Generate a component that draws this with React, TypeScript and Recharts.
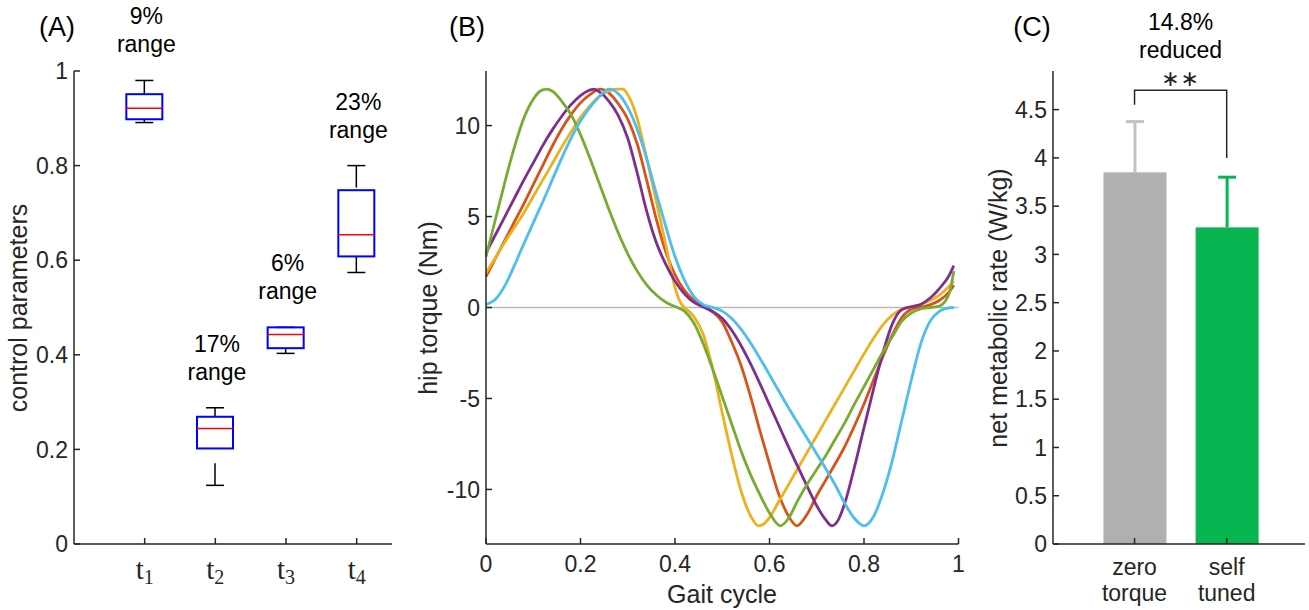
import React from 'react';
import { ComposedChart, LineChart, Line, Bar, XAxis, YAxis, ReferenceLine, ReferenceDot } from 'recharts';

// ─── shared look ──────────────────────────────────────────────────────────────

const W = 1309;
const H = 610;
const SANS = '"Liberation Sans", Arial, sans-serif';
const SERIF = '"Liberation Serif", "Times New Roman", serif';
const AXIS = '#262626';
const TICK_FONT = 23;
const TITLE_FONT = 25;
const NOTE_FONT = 23;

// ─── (A) control parameters box plot ─────────────────────────────────────────

const paramPos = [1, 2, 3, 4];
const paramSub = ['1', '2', '3', '4'];
const whiskerHi = [0.98, 0.288, 0.458, 0.8];
const upperQ = [0.951, 0.269, 0.458, 0.748];
const medians = [0.921, 0.244, 0.443, 0.654];
const lowerQ = [0.898, 0.202, 0.414, 0.608];
const whiskerLo = [0.891, 0.124, 0.403, 0.574];
const rangePct = ['9%', '17%', '6%', '23%'];
const paramTicksY = [0, 0.2, 0.4, 0.6, 0.8, 1];

// ─── (B) hip torque profiles, [gait cycle, Nm] ───────────────────────────────

const gaitRed: [number, number][] = [
  [0, 1.7], [0.02, 2.7], [0.04, 3.7], [0.06, 4.7], [0.08, 5.7], [0.1, 6.75], [0.12, 7.8],
  [0.14, 8.85], [0.16, 9.8], [0.18, 10.6], [0.2, 11.25], [0.22, 11.7], [0.242, 12], [0.26, 11.8],
  [0.28, 11.2], [0.3, 10.35], [0.32, 9.0], [0.34, 7.0], [0.36, 4.9], [0.38, 3.1], [0.4, 1.8],
  [0.42, 0.95], [0.44, 0.4], [0.46, 0.05], [0.48, -0.25], [0.5, -0.8], [0.52, -1.9], [0.54, -3.2],
  [0.56, -4.9], [0.58, -6.8], [0.6, -8.6], [0.62, -10.3], [0.64, -11.45], [0.658, -12],
  [0.68, -11.35], [0.7, -10.35], [0.72, -9.45], [0.74, -8.55], [0.76, -7.6], [0.78, -6.5],
  [0.8, -5.3], [0.82, -4.0], [0.84, -2.7], [0.86, -1.5], [0.88, -0.55], [0.9, -0.1], [0.92, 0.02],
  [0.94, 0.15], [0.96, 0.4], [0.98, 0.85], [0.99, 1.23],
];
const gaitYellow: [number, number][] = [
  [0, 1.9], [0.02, 2.75], [0.04, 3.6], [0.06, 4.4], [0.08, 5.2], [0.1, 6.1], [0.12, 7.0],
  [0.14, 7.9], [0.16, 8.8], [0.18, 9.65], [0.2, 10.45], [0.22, 11.1], [0.24, 11.6], [0.26, 11.9],
  [0.275, 12], [0.29, 12], [0.3, 11.7], [0.32, 10.4], [0.34, 8.2], [0.36, 5.9], [0.38, 3.5],
  [0.4, 1.1], [0.41, 0.35], [0.42, 0.0], [0.43, -0.22], [0.44, -0.5], [0.46, -1.5], [0.48, -3.4],
  [0.5, -5.8], [0.52, -8.1], [0.54, -10.1], [0.56, -11.45], [0.577, -12], [0.59, -11.85],
  [0.6, -11.55], [0.62, -10.65], [0.64, -9.75], [0.66, -8.85], [0.68, -7.95], [0.7, -7.05],
  [0.72, -6.15], [0.74, -5.25], [0.76, -4.35], [0.78, -3.45], [0.8, -2.55], [0.82, -1.7],
  [0.84, -0.95], [0.86, -0.42], [0.88, -0.1], [0.9, 0.05], [0.92, 0.18], [0.94, 0.38],
  [0.96, 0.7], [0.98, 1.15], [0.99, 1.45],
];
const gaitPurple: [number, number][] = [
  [0, 3.0], [0.02, 4.0], [0.04, 5.0], [0.06, 6.0], [0.08, 7.0], [0.1, 7.95], [0.12, 8.9],
  [0.14, 9.75], [0.16, 10.5], [0.18, 11.15], [0.2, 11.65], [0.215, 11.9], [0.228, 12],
  [0.24, 11.85], [0.26, 11.35], [0.28, 10.55], [0.3, 9.3], [0.32, 7.4], [0.34, 5.3], [0.36, 3.6],
  [0.38, 2.4], [0.4, 1.45], [0.42, 0.75], [0.44, 0.28], [0.46, 0.03], [0.48, -0.22], [0.5, -0.6],
  [0.52, -1.25], [0.54, -2.1], [0.56, -3.1], [0.58, -4.2], [0.6, -5.35], [0.62, -6.5],
  [0.64, -7.65], [0.66, -8.75], [0.68, -9.85], [0.7, -10.9], [0.72, -11.7], [0.732, -12],
  [0.745, -11.7], [0.76, -10.7], [0.78, -8.75], [0.8, -6.6], [0.82, -4.5], [0.84, -2.5],
  [0.86, -0.9], [0.88, -0.12], [0.9, 0.04], [0.92, 0.17], [0.94, 0.52], [0.96, 1.05],
  [0.98, 1.75], [0.99, 2.3],
];
const gaitGreen: [number, number][] = [
  [0, 2.8], [0.02, 4.85], [0.04, 6.9], [0.06, 8.8], [0.08, 10.4], [0.1, 11.45], [0.115, 11.9],
  [0.128, 12], [0.14, 11.9], [0.16, 11.35], [0.18, 10.6], [0.2, 9.5], [0.22, 8.2], [0.24, 6.8],
  [0.26, 5.4], [0.28, 4.1], [0.3, 2.95], [0.32, 2.0], [0.34, 1.25], [0.36, 0.7], [0.38, 0.3],
  [0.4, 0.05], [0.42, -0.2], [0.44, -0.85], [0.46, -2.0], [0.48, -3.4], [0.5, -4.9], [0.52, -6.4],
  [0.54, -7.9], [0.56, -9.2], [0.58, -10.3], [0.6, -11.3], [0.623, -12], [0.64, -11.6],
  [0.66, -10.6], [0.68, -9.7], [0.7, -8.9], [0.72, -8.1], [0.74, -7.2], [0.76, -6.3], [0.78, -5.3],
  [0.8, -4.35], [0.82, -3.4], [0.84, -2.45], [0.86, -1.6], [0.88, -0.75], [0.9, -0.3],
  [0.92, -0.08], [0.94, 0], [0.96, 0.08], [0.98, 0.75], [0.99, 2.0],
];
const gaitCyan: [number, number][] = [
  [0, 0.15], [0.02, 0.45], [0.04, 1.2], [0.06, 2.3], [0.08, 3.5], [0.1, 4.65], [0.12, 5.8],
  [0.14, 7.0], [0.16, 8.2], [0.18, 9.3], [0.2, 10.25], [0.22, 11.0], [0.24, 11.6], [0.26, 12.0],
  [0.28, 11.75], [0.3, 11.0], [0.32, 9.8], [0.34, 8.2], [0.36, 6.3], [0.38, 4.5], [0.4, 2.8],
  [0.42, 1.5], [0.44, 0.6], [0.46, 0.15], [0.48, 0.0], [0.5, -0.2], [0.52, -0.6], [0.54, -1.2],
  [0.56, -1.95], [0.58, -2.8], [0.6, -3.7], [0.62, -4.6], [0.64, -5.5], [0.66, -6.35],
  [0.68, -7.2], [0.7, -8.05], [0.72, -8.9], [0.74, -9.8], [0.76, -10.8], [0.78, -11.6],
  [0.8, -12.0], [0.82, -11.5], [0.84, -10.2], [0.86, -8.4], [0.88, -6.2], [0.9, -4.0],
  [0.92, -2.0], [0.94, -0.75], [0.96, -0.2], [0.98, -0.02], [0.99, 0],
];
const gaitTicksX = [0, 0.2, 0.4, 0.6, 0.8, 1];
const torqueTicks = [-10, -5, 0, 5, 10];

// ─── (C) metabolic rate ──────────────────────────────────────────────────────

const condPos = [1, 2];
const condLabels = [['zero', 'torque'], ['self', 'tuned']];
const metMean = [3.85, 3.28];
const metErr = [0.526, 0.52];
const metTicks = [0, 0.5, 1, 1.5, 2, 2.5, 3, 3.5, 4, 4.5];
const bracket = [
  { pos: 1, v: 4.55 },
  { pos: 1, v: 4.7 },
  { pos: 2, v: 4.7 },
  { pos: 2, v: 4.0 },
];

const barFill = ['#b0b0b0', '#08b550'];
const errColor = ['#c2c2c2', '#08b550'];

// ─── helpers ──────────────────────────────────────────────────────────────────

const fmt = (v: number) => String(v);
const toPts = (arr: [number, number][]) => arr.map(([x, y]) => ({ x, y }));

function LeftTick({ x, y, payload }: any) {
  return (
    <g>
      <line x1={x} x2={x + 6} y1={y} y2={y} stroke={AXIS} strokeWidth={1.5} />
      <text x={x - 6} y={y} dy="0.36em" textAnchor="end" fontFamily={SANS} fontSize={TICK_FONT} fill={AXIS}>
        {fmt(payload.value)}
      </text>
    </g>
  );
}

function BottomTick({ x, y, payload }: any) {
  return (
    <g>
      <line x1={x} x2={x} y1={y} y2={y - 6} stroke={AXIS} strokeWidth={1.5} />
      <text x={x} y={y + 28} textAnchor="middle" fontFamily={SANS} fontSize={TICK_FONT} fill={AXIS}>
        {fmt(payload.value)}
      </text>
    </g>
  );
}

function ParamTick({ x, y, payload }: any) {
  const i = paramPos.indexOf(payload.value);
  return (
    <g>
      <line x1={x} x2={x} y1={y} y2={y - 6} stroke={AXIS} strokeWidth={1.5} />
      <text x={x} y={y + 35} textAnchor="middle" fontFamily={SERIF} fontSize={29} fill={AXIS}>
        t<tspan fontSize={20} dy={5}>{paramSub[i]}</tspan>
      </text>
    </g>
  );
}

function CondTick({ x, y, payload }: any) {
  const i = condPos.indexOf(payload.value);
  const lines = condLabels[i] || [];
  return (
    <g>
      <line x1={x} x2={x} y1={y} y2={y - 6} stroke={AXIS} strokeWidth={1.5} />
      <text x={x} y={y + 31} textAnchor="middle" fontFamily={SANS} fontSize={TICK_FONT} fill={AXIS}>
        {lines[0]}
      </text>
      <text x={x} y={y + 57} textAnchor="middle" fontFamily={SANS} fontSize={TICK_FONT} fill={AXIS}>
        {lines[1]}
      </text>
    </g>
  );
}

// box + whiskers + median, scale taken from the bar Recharts hands us
function BoxShape(props: any) {
  const { x, y, width, height, payload } = props;
  const k = height / (payload.q3 - payload.q1);
  const cx = x + width / 2;
  const yHi = y - (payload.hi - payload.q3) * k;
  const yLo = y + height + (payload.q1 - payload.lo) * k;
  const yMed = y + (payload.q3 - payload.med) * k;
  const cap = width / 4;
  return (
    <g>
      {yHi < y - 0.5 && (
        <line x1={cx} x2={cx} y1={yHi} y2={y} stroke="#000" strokeWidth={1.5} strokeDasharray="22 16" />
      )}
      <line x1={cx - cap} x2={cx + cap} y1={yHi} y2={yHi} stroke="#000" strokeWidth={1.5} />
      <line x1={cx} x2={cx} y1={yLo} y2={y + height} stroke="#000" strokeWidth={1.5} strokeDasharray="22 16" />
      <line x1={cx - cap} x2={cx + cap} y1={yLo} y2={yLo} stroke="#000" strokeWidth={1.5} />
      <rect x={x} y={y} width={width} height={height} fill="none" stroke="#0000ff" strokeWidth={2} />
      <line x1={x} x2={x + width} y1={yMed} y2={yMed} stroke="#ff0000" strokeWidth={1.5} />
      <text x={cx + 2} y={yHi - 56} textAnchor="middle" fontFamily={SANS} fontSize={NOTE_FONT} fill="#000">
        {payload.pct}
      </text>
      <text x={cx + 2} y={yHi - 28} textAnchor="middle" fontFamily={SANS} fontSize={NOTE_FONT} fill="#000">
        range
      </text>
    </g>
  );
}

function MeanBar(props: any) {
  const { x, y, width, height, payload, index } = props;
  const k = height / payload.mean;
  const cx = x + width / 2;
  const yTop = y - payload.err * k;
  return (
    <g>
      <rect x={x} y={y} width={width} height={height} fill={barFill[index]} />
      <line x1={cx} x2={cx} y1={y} y2={yTop} stroke={errColor[index]} strokeWidth={3} />
      <line x1={cx - 9} x2={cx + 9} y1={yTop} y2={yTop} stroke={errColor[index]} strokeWidth={3} />
    </g>
  );
}

function SigNote({ cx, cy }: any) {
  return (
    <g>
      <text x={cx} y={cy - 41} textAnchor="middle" fontFamily={SANS} fontSize={NOTE_FONT} fill="#000">14.8%</text>
      <text x={cx} y={cy - 13} textAnchor="middle" fontFamily={SANS} fontSize={NOTE_FONT} fill="#000">reduced</text>
      <text x={cx} y={cy + 15} textAnchor="middle" fontFamily='"DejaVu Sans", sans-serif' fontSize={22} fill={AXIS} letterSpacing={1}>
        ∗∗
      </text>
    </g>
  );
}

// ─── panels ───────────────────────────────────────────────────────────────────

function PanelA() {
  const rows = paramPos.map((p, i) => ({
    pos: p,
    box: [lowerQ[i], upperQ[i]],
    q1: lowerQ[i],
    q3: upperQ[i],
    med: medians[i],
    hi: whiskerHi[i],
    lo: whiskerLo[i],
    pct: rangePct[i],
  }));
  return (
    <ComposedChart width={W} height={H} data={rows} margin={{ top: 71, bottom: 36, left: 34, right: W - 392 }}>
      <XAxis
        dataKey="pos"
        type="number"
        domain={[0, 4.5]}
        ticks={paramPos}
        interval={0}
        height={30}
        tickSize={0}
        tickMargin={0}
        tick={ParamTick}
        axisLine={{ stroke: AXIS, strokeWidth: 1.5 }}
        tickLine={false}
      />
      <YAxis
        type="number"
        domain={[0, 1]}
        ticks={paramTicksY}
        interval={0}
        width={40}
        tickSize={0}
        tickMargin={0}
        tick={LeftTick}
        axisLine={{ stroke: AXIS, strokeWidth: 1.5 }}
        tickLine={false}
      />
      <Bar dataKey="box" barSize={36} isAnimationActive={false} shape={(p: any) => <BoxShape {...p} />} />
    </ComposedChart>
  );
}

function PanelB() {
  const series = [
    { pts: gaitRed, color: '#D95319' },
    { pts: gaitYellow, color: '#EDB120' },
    { pts: gaitPurple, color: '#7E2F8E' },
    { pts: gaitGreen, color: '#77AC30' },
    { pts: gaitCyan, color: '#4DBEEE' },
  ];
  return (
    <LineChart width={W} height={H} margin={{ top: 71, bottom: 36, left: 446, right: W - 958.5 }}>
      <XAxis
        dataKey="x"
        type="number"
        domain={[0, 1]}
        ticks={gaitTicksX}
        interval={0}
        height={30}
        tickSize={0}
        tickMargin={0}
        tick={BottomTick}
        axisLine={{ stroke: AXIS, strokeWidth: 1.5 }}
        tickLine={false}
        allowDuplicatedCategory={false}
      />
      <YAxis
        type="number"
        domain={[-13, 13]}
        ticks={torqueTicks}
        interval={0}
        width={40}
        tickSize={0}
        tickMargin={0}
        tick={LeftTick}
        axisLine={{ stroke: AXIS, strokeWidth: 1.5 }}
        tickLine={false}
      />
      <ReferenceLine y={0} stroke="#b8b8b8" strokeWidth={1.5} />
      {series.map((s, i) => (
        <Line
          key={i}
          data={toPts(s.pts)}
          dataKey="y"
          type="monotone"
          stroke={s.color}
          strokeWidth={2.8}
          dot={false}
          activeDot={false}
          isAnimationActive={false}
        />
      ))}
    </LineChart>
  );
}

function PanelC() {
  const rows = condPos.map((p, i) => ({ pos: p, mean: metMean[i], err: metErr[i] }));
  return (
    <ComposedChart width={W} height={H} data={rows} margin={{ top: 71, bottom: 36, left: 1013, right: 4 }}>
      <XAxis
        dataKey="pos"
        type="number"
        domain={[0.115, 2.85]}
        ticks={condPos}
        interval={0}
        height={30}
        tickSize={0}
        tickMargin={0}
        tick={CondTick}
        axisLine={{ stroke: AXIS, strokeWidth: 1.5 }}
        tickLine={false}
      />
      <YAxis
        type="number"
        domain={[0, 4.9]}
        ticks={metTicks}
        interval={0}
        width={40}
        tickSize={0}
        tickMargin={0}
        tick={LeftTick}
        axisLine={{ stroke: AXIS, strokeWidth: 1.5 }}
        tickLine={false}
      />
      <Bar dataKey="mean" barSize={63} isAnimationActive={false} shape={(p: any) => <MeanBar {...p} />} />
      <Line
        data={bracket}
        dataKey="v"
        type="linear"
        stroke={AXIS}
        strokeWidth={1.5}
        dot={false}
        activeDot={false}
        isAnimationActive={false}
      />
      <ReferenceDot x={1.5} y={4.9} r={0} ifOverflow="visible" shape={(p: any) => <SigNote {...p} />} />
    </ComposedChart>
  );
}

export default function App() {
  const layer: React.CSSProperties = { position: 'absolute', left: 0, top: 0 };
  return (
    <div style={{ position: 'fixed', left: 0, top: 0, width: W, height: H, background: '#fff', overflow: 'hidden' }}>
      <div style={layer}><PanelA /></div>
      <div style={layer}><PanelB /></div>
      <div style={layer}><PanelC /></div>
      <svg style={layer} width={W} height={H}>
        <g fontFamily={SANS} fill="#000">
          <text x={57} y={36} textAnchor="middle" fontSize={27}>(A)</text>
          <text x={467} y={36} textAnchor="middle" fontSize={27}>(B)</text>
          <text x={1032} y={36} textAnchor="middle" fontSize={27}>(C)</text>
        </g>
        <g fontFamily={SANS} fontSize={TITLE_FONT} fill={AXIS} textAnchor="middle">
          <text transform="translate(27,308) rotate(-90)">control parameters</text>
          <text transform="translate(437,308) rotate(-90)">hip torque (Nm)</text>
          <text transform="translate(1007,308) rotate(-90)">net metabolic rate (W/kg)</text>
          <text x={722} y={603}>Gait cycle</text>
        </g>
      </svg>
    </div>
  );
}
